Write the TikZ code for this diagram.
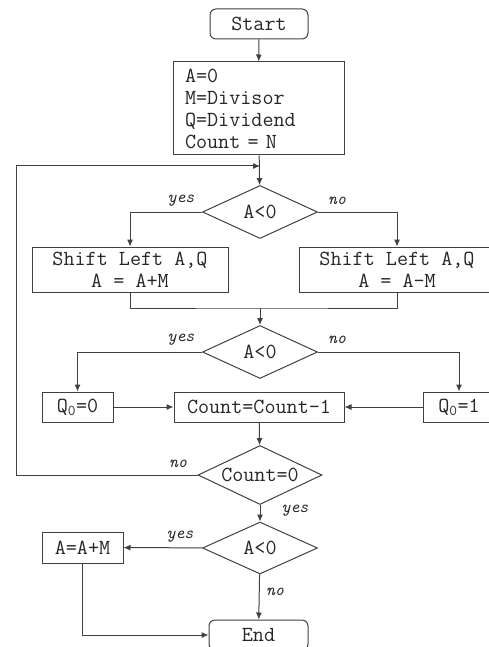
\documentclass[tikz,border=0pt]{standalone}
\usepackage{fontspec}
\usetikzlibrary{arrows.meta, shapes.geometric}

\begin{document}
\begin{tikzpicture}[
  x=1pt, y=-1pt,
  every node/.style={text=black!85, font=\fontsize{21.5}{22}\selectfont\ttfamily},
  proc/.style={rectangle, draw=black!75, line width=1pt, inner sep=0pt},
  term/.style={proc, rounded corners=6pt},
  dec/.style={diamond, aspect=2.2, draw=black!75, line width=1pt, inner sep=0pt},
  edge/.style={-{Latex[length=7pt, width=6pt]}, draw=black!75, line width=1pt},
  line/.style={draw=black!75, line width=1pt},
  lab/.style={font=\fontsize{17}{17}\selectfont\ttfamily\itshape}
]
\useasboundingbox (0,0) rectangle (489,647);
\clip (0,0) rectangle (489,647);

% boxes
\node[term, minimum width=98pt, minimum height=30pt] (start) at (259,24) {Start};
\node[proc, text width=147pt, inner xsep=12pt, minimum height=93pt, align=left] (init) at (258.5,108.5)
  {A=0\\M=Divisor\\Q=Dividend\\Count = N};
\node[dec, minimum width=115pt, minimum height=53pt] (d1) at (260,212) {A<0};
\node[proc, minimum width=196pt, minimum height=45pt, align=center] (shl) at (130,269.5)
  {Shift Left A,Q\\A = A+M};
\node[proc, minimum width=196pt, minimum height=45pt, align=center] (shr) at (397,269.5)
  {Shift Left A,Q\\A = A-M};
\node[dec, minimum width=115pt, minimum height=53pt] (d2) at (260,352) {A<0};
\node[proc, minimum width=71pt, minimum height=30pt] (q0) at (77.5,407) {Q\textsubscript{0}=0};
\node[proc, minimum width=170pt, minimum height=30pt] (cnt) at (259,407) {Count=Count-1};
\node[proc, minimum width=72pt, minimum height=30pt] (q1) at (459,407) {Q\textsubscript{0}=1};
\node[dec, minimum width=124pt, minimum height=59pt] (d3) at (260,475) {Count=0};
\node[dec, minimum width=115pt, minimum height=52pt] (d4) at (260,548) {A<0};
\node[proc, minimum width=81pt, minimum height=31pt] (aam) at (82.5,547.5) {A=A+M};
\node[term, minimum width=99pt, minimum height=30pt] (end) at (258.5,635) {End};

\coordinate (m) at (260,308);
\coordinate (lp) at (260,166);
\coordinate (lc) at (16,166);

% connectors
\draw[edge] (start) -- (init);
\draw[edge] (init) -- (d1);
\draw[edge] (d1.west) -| (shl.north);
\draw[edge] (d1.east) -| (shr.north);
\draw[line] (shl.south) |- (m) -| (shr.south);
\draw[edge] (m) -- (d2.north);
\draw[edge] (d2.west) -| (q0.north);
\draw[edge] (d2.east) -| (q1.north);
\draw[edge] (q0) -- (cnt);
\draw[edge] (q1) -- (cnt);
\draw[edge] (cnt) -- (d3);
\draw[edge] (d3.west) -| (lc) -- (lp);
\draw[edge] (d3) -- (d4);
\draw[edge] (d4) -- (aam);
\draw[edge] (d4) -- (end);
\draw[edge] (aam.south) |- (end.west);

% labels
\node[lab] (y1) at (181,201) {yes};
\node[lab] (n1) at (337,201) {no};
\node[lab] (y2) at (181,340) {yes};
\node[lab] (n2) at (337,340) {no};
\node[lab] (n3) at (178,464) {no};
\node[lab] (y3) at (295,511) {yes};
\node[lab] (y4) at (180,537) {yes};
\node[lab] (n4) at (275,592) {no};
\end{tikzpicture}
\end{document}
